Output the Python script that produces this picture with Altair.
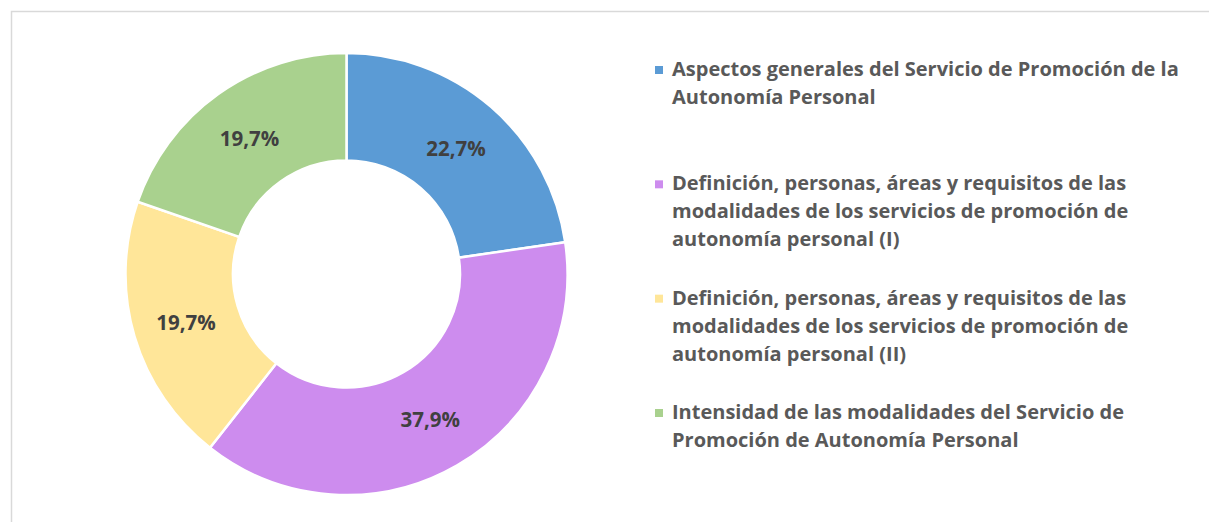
import altair as alt
import pandas as pd

# ---- data ----
categories = [
    "Aspectos generales del Servicio de Promoción de la Autonomía Personal",
    "Definición, personas, áreas y requisitos de las modalidades de los servicios de promoción de autonomía personal (I)",
    "Definición, personas, áreas y requisitos de las modalidades de los servicios de promoción de autonomía personal (II)",
    "Intensidad de las modalidades del Servicio de Promoción de Autonomía Personal",
]
values = [22.7, 37.9, 19.7, 19.7]
value_labels = ["22,7%", "37,9%", "19,7%", "19,7%"]
legend_labels = [
    "Aspectos generales del Servicio de Promoción de la\nAutonomía Personal",
    "Definición, personas, áreas y requisitos de las\nmodalidades de los servicios de promoción de\nautonomía personal (I)",
    "Definición, personas, áreas y requisitos de las\nmodalidades de los servicios de promoción de\nautonomía personal (II)",
    "Intensidad de las modalidades del Servicio de\nPromoción de Autonomía Personal",
]
colors = ["#5B9BD5", "#CD8CEE", "#FFE699", "#A9D18E"]

df = pd.DataFrame({
    "cat": categories,
    "value": values,
    "label": value_labels,
    "legend": legend_labels,
    "idx": list(range(len(categories))),
})

FONT = "Open Sans"
CX, CY = 346.5, 274
R_OUT, R_IN = 221, 113.5

color = alt.Color("cat:N", scale=alt.Scale(domain=categories, range=colors), legend=None)

frame = alt.Chart(pd.DataFrame({"a": [0]})).mark_rect(
    filled=False, stroke="#D9D9D9", strokeWidth=1.5
).encode(
    x=alt.value(11.5), y=alt.value(11.5), x2=alt.value(1240), y2=alt.value(560)
)

base = alt.Chart(df).encode(
    theta=alt.Theta("value:Q", stack=True),
    order=alt.Order("idx:Q"),
    x=alt.value(CX),
    y=alt.value(CY),
)

arcs = base.mark_arc(radius=R_OUT, radius2=R_IN, stroke="white", strokeWidth=2.5).encode(color=color)

labels = base.mark_text(
    radius=(R_OUT + R_IN) / 2, font=FONT, fontWeight="bold", fontSize=20.5,
    color="#404040", dy=2.5
).encode(text="label:N")

ypos = alt.Y("idx:Q", scale=alt.Scale(domain=[0, 3], range=[70, 413]), axis=None)

squares = alt.Chart(df).mark_point(
    shape="square", filled=True, size=64, opacity=1
).encode(x=alt.value(659), y=ypos, color=color)

legend_text = alt.Chart(df).mark_text(
    align="left", baseline="middle", lineBreak="\n", lineHeight=28,
    font=FONT, fontWeight="bold", fontSize=20, color="#595959"
).encode(
    x=alt.value(672),
    y=alt.Y("idx:Q", scale=alt.Scale(domain=[0, 3], range=[70, 413]), axis=None),
    text="legend:N",
)

chart = alt.layer(frame, arcs, labels, squares, legend_text).properties(
    width=1209, height=522, autosize=alt.AutoSizeParams(type="none"), padding=0
).configure_view(stroke=None)

chart.save("out.html", embed_options={"renderer": "svg", "actions": False})
